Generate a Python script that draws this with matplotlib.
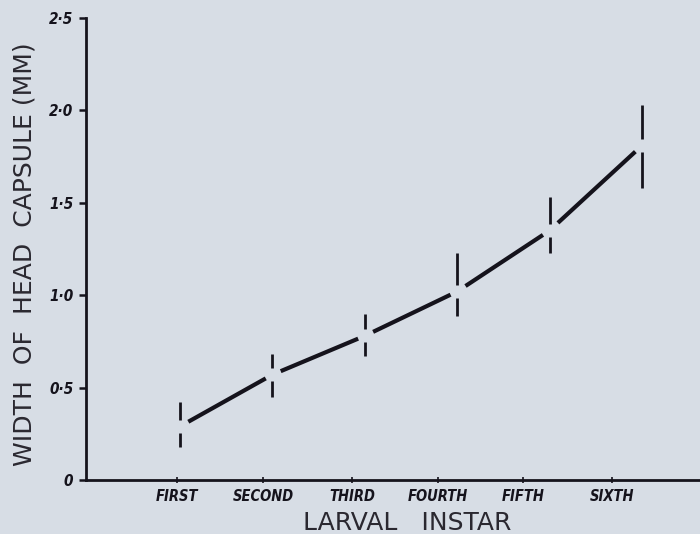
import matplotlib
matplotlib.use("Agg")
import matplotlib.pyplot as plt
import numpy as np

instars = ["FIRST", "SECOND", "THIRD", "FOURTH", "FIFTH", "SIXTH"]
mean_width = [0.29, 0.57, 0.78, 1.02, 1.35, 1.81]
min_width = [0.18, 0.45, 0.67, 0.89, 1.23, 1.58]
max_width = [0.42, 0.68, 0.90, 1.23, 1.53, 2.03]
y_ticks = [0, 0.5, 1.0, 1.5, 2.0, 2.5]
y_tick_labels = ["0", "0·5", "1·0", "1·5", "2·0", "2·5"]

BG = "#d7dde5"
INK = "#15131c"

fig = plt.figure(figsize=(7.0, 5.34), dpi=100, facecolor=BG)
ax = fig.add_axes([86 / 700, 54 / 534, 1 - 86 / 700, (480 - 18) / 534])
ax.set_facecolor(BG)

x = np.arange(1, len(instars) + 1)
ax.set_xlim(1 - 94 / 92.4, 1 + 520 / 92.4)
ax.set_ylim(0, 2.5)

# connecting line, broken near each range bar
trim = 0.09
for i in range(len(x) - 1):
    x0, x1 = x[i], x[i + 1]
    y0, y1 = mean_width[i], mean_width[i + 1]
    ax.plot([x0 + trim * (x1 - x0), x1 - trim * 0.8 * (x1 - x0)],
            [y0 + trim * (y1 - y0), y1 - trim * 0.8 * (y1 - y0)],
            color=INK, lw=3.0, solid_capstyle="butt")

# range bars with a gap at the mean
gap = 0.035
ax.vlines(x, np.array(mean_width) + gap, max_width, color=INK, lw=2.0)
ax.vlines(x, min_width, np.array(mean_width) - gap, color=INK, lw=2.0)

for s in ["top", "right"]:
    ax.spines[s].set_visible(False)
for s in ["left", "bottom"]:
    ax.spines[s].set_linewidth(2.0)
    ax.spines[s].set_color(INK)

ax.set_yticks(y_ticks)
ax.set_yticklabels(y_tick_labels, fontsize=11, family="DejaVu Sans",
                   style="italic", weight="bold", stretch="condensed")
ax.tick_params(axis="y", direction="out", length=5, width=1.8, color=INK,
               pad=4, labelcolor=INK)

tick_pos = [0.97, 1.90, 2.86, 3.79, 4.71, 5.68]
ax.set_xticks(tick_pos)
ax.set_xticklabels(instars, fontsize=10.5, family="DejaVu Sans",
                   style="italic", weight="bold", stretch="condensed")
ax.tick_params(axis="x", direction="inout", length=5, width=1.2, color=INK,
               pad=4, labelcolor=INK)

label_font = dict(family="DejaVu Sans", weight="normal", fontsize=18,
                  color="#2a2830")
fig.text(25 / 700, 1 - 254 / 534, "WIDTH  OF  HEAD  CAPSULE (MM)",
         rotation=90, ha="center", va="center", **label_font)
fig.text(407 / 700, 1 - 523 / 534, "LARVAL   INSTAR",
         ha="center", va="center", **label_font)

fig.savefig("out.png", dpi=100, facecolor=BG)
